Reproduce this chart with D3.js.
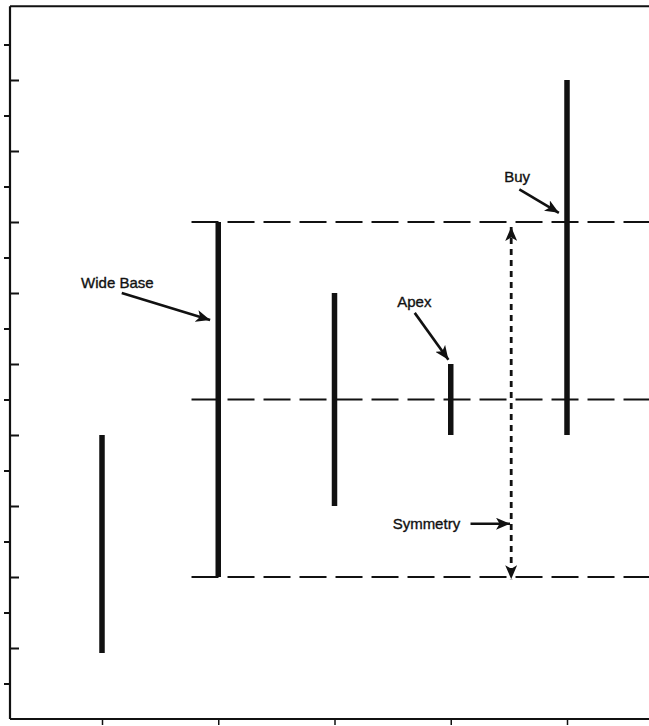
<!DOCTYPE html>
<html>
<head>
<meta charset="utf-8">
<script src="https://cdn.jsdelivr.net/npm/d3@7/dist/d3.min.js"></script>
<style>
  html, body { margin: 0; padding: 0; background: #fff; }
  svg { display: block; }
  text { font-family: "Liberation Sans", Arial, sans-serif; font-size: 15px; fill: #111; stroke: #111; stroke-width: 0.35px; }
</style>
</head>
<body>
<div id="chart"></div>
<script>
// bars: position on x, low and high value
const barX = [1, 2, 3, 4, 5];
const barLow = [0.93, 2, 3, 4, 4];
const barHigh = [4, 7, 6, 5, 9];

// horizontal dashed reference levels
const levels = [7, 4.5, 2];
const levelStart = 1.77;

// tick values
const majorTicks = [1, 2, 3, 4, 5, 6, 7, 8, 9];
const minorTicks = [0.5, 1.5, 2.5, 3.5, 4.5, 5.5, 6.5, 7.5, 8.5, 9.5];
const xTicks = [1, 2, 3, 4, 5];

// annotations: text, text anchor and arrow tail -> tip (data units)
const noteText = ["Wide Base", "Apex", "Symmetry", "Buy"];
const noteTextPos = [[0.82, 6.07], [3.54, 5.8], [3.5, 2.68], [4.46, 7.56]];
const noteFrom = [[1.17, 6.0], [3.69, 5.72], [4.17, 2.75], [4.59, 7.46]];
const noteTo = [[1.93, 5.62], [3.98, 5.06], [4.51, 2.75], [4.93, 7.13]];

// symmetry double arrow
const symX = 4.52;
const symTop = 6.93;
const symBottom = 1.97;

const width = 649, height = 726;

const svg = d3.select("#chart").append("svg")
  .attr("width", width)
  .attr("height", height);

const x = d3.scaleLinear().domain([1, 5]).range([102, 567]);
const y = d3.scaleLinear().domain([0, 10]).range([719, 9]);

const xMin = x.invert(10), xMax = x.invert(width);

svg.append("defs").append("marker")
  .attr("id", "head")
  .attr("viewBox", "0 0 14 12")
  .attr("refX", 14).attr("refY", 6)
  .attr("markerWidth", 14).attr("markerHeight", 12)
  .attr("markerUnits", "userSpaceOnUse")
  .attr("orient", "auto-start-reverse")
  .append("path")
  .attr("d", "M0,0 L14,6 L0,12 L3.5,6 Z")
  .attr("fill", "#111");

// frame: top line
svg.append("line")
  .attr("x1", x(xMin)).attr("x2", x(xMax))
  .attr("y1", y(10.04)).attr("y2", y(10.04))
  .attr("stroke", "#111").attr("stroke-width", 2);

// left axis, long ticks inward, short ticks outward
const axisL = svg.append("g").attr("transform", `translate(${x(xMin)},0)`);
axisL.call(d3.axisLeft(y).tickValues(majorTicks).tickSize(-9).tickFormat(""));
axisL.append("g").call(d3.axisLeft(y).tickValues(minorTicks).tickSize(6).tickFormat(""));
axisL.selectAll(".domain").remove();
axisL.selectAll("line").attr("stroke", "#111").attr("stroke-width", 2);
axisL.append("line")
  .attr("x1", 0).attr("x2", 0)
  .attr("y1", y(10.04)).attr("y2", y(0))
  .attr("stroke", "#111").attr("stroke-width", 2.2);

// bottom axis
const axisB = svg.append("g").attr("transform", `translate(0,${y(0)})`);
axisB.call(d3.axisBottom(x).tickValues(xTicks).tickSize(6).tickFormat(""));
axisB.select(".domain").remove();
axisB.selectAll("line").attr("stroke", "#111").attr("stroke-width", 1.5);
axisB.append("line")
  .attr("x1", x(xMin)).attr("x2", x(xMax))
  .attr("y1", 0).attr("y2", 0)
  .attr("stroke", "#111").attr("stroke-width", 2);

// dashed levels
svg.selectAll(".level")
  .data(levels)
  .join("line")
  .attr("class", "level")
  .attr("x1", x(levelStart)).attr("x2", x(xMax))
  .attr("y1", d => y(d)).attr("y2", d => y(d))
  .attr("stroke", "#111")
  .attr("stroke-width", 1.8)
  .attr("stroke-dasharray", "27,9");

// bars
svg.selectAll(".bar")
  .data(barX)
  .join("line")
  .attr("class", "bar")
  .attr("x1", d => x(d)).attr("x2", d => x(d))
  .attr("y1", (d, i) => y(barHigh[i]))
  .attr("y2", (d, i) => y(barLow[i]))
  .attr("stroke", "#111")
  .attr("stroke-width", 5.5);

// symmetry double arrow (dotted)
svg.append("line")
  .attr("x1", x(symX)).attr("x2", x(symX))
  .attr("y1", y(symTop)).attr("y2", y(symBottom))
  .attr("stroke", "#111")
  .attr("stroke-width", 2.8)
  .attr("stroke-dasharray", "6,5")
  .attr("marker-start", "url(#head)")
  .attr("marker-end", "url(#head)");

// annotation arrows
svg.selectAll(".note-arrow")
  .data(noteText)
  .join("line")
  .attr("class", "note-arrow")
  .attr("x1", (d, i) => x(noteFrom[i][0]))
  .attr("y1", (d, i) => y(noteFrom[i][1]))
  .attr("x2", (d, i) => x(noteTo[i][0]))
  .attr("y2", (d, i) => y(noteTo[i][1]))
  .attr("stroke", "#111")
  .attr("stroke-width", 2.6)
  .attr("marker-end", "url(#head)");

// annotation labels
svg.selectAll(".note")
  .data(noteText)
  .join("text")
  .attr("class", "note")
  .attr("x", (d, i) => x(noteTextPos[i][0]))
  .attr("y", (d, i) => y(noteTextPos[i][1]))
  .text(d => d);
</script>
</body>
</html>
